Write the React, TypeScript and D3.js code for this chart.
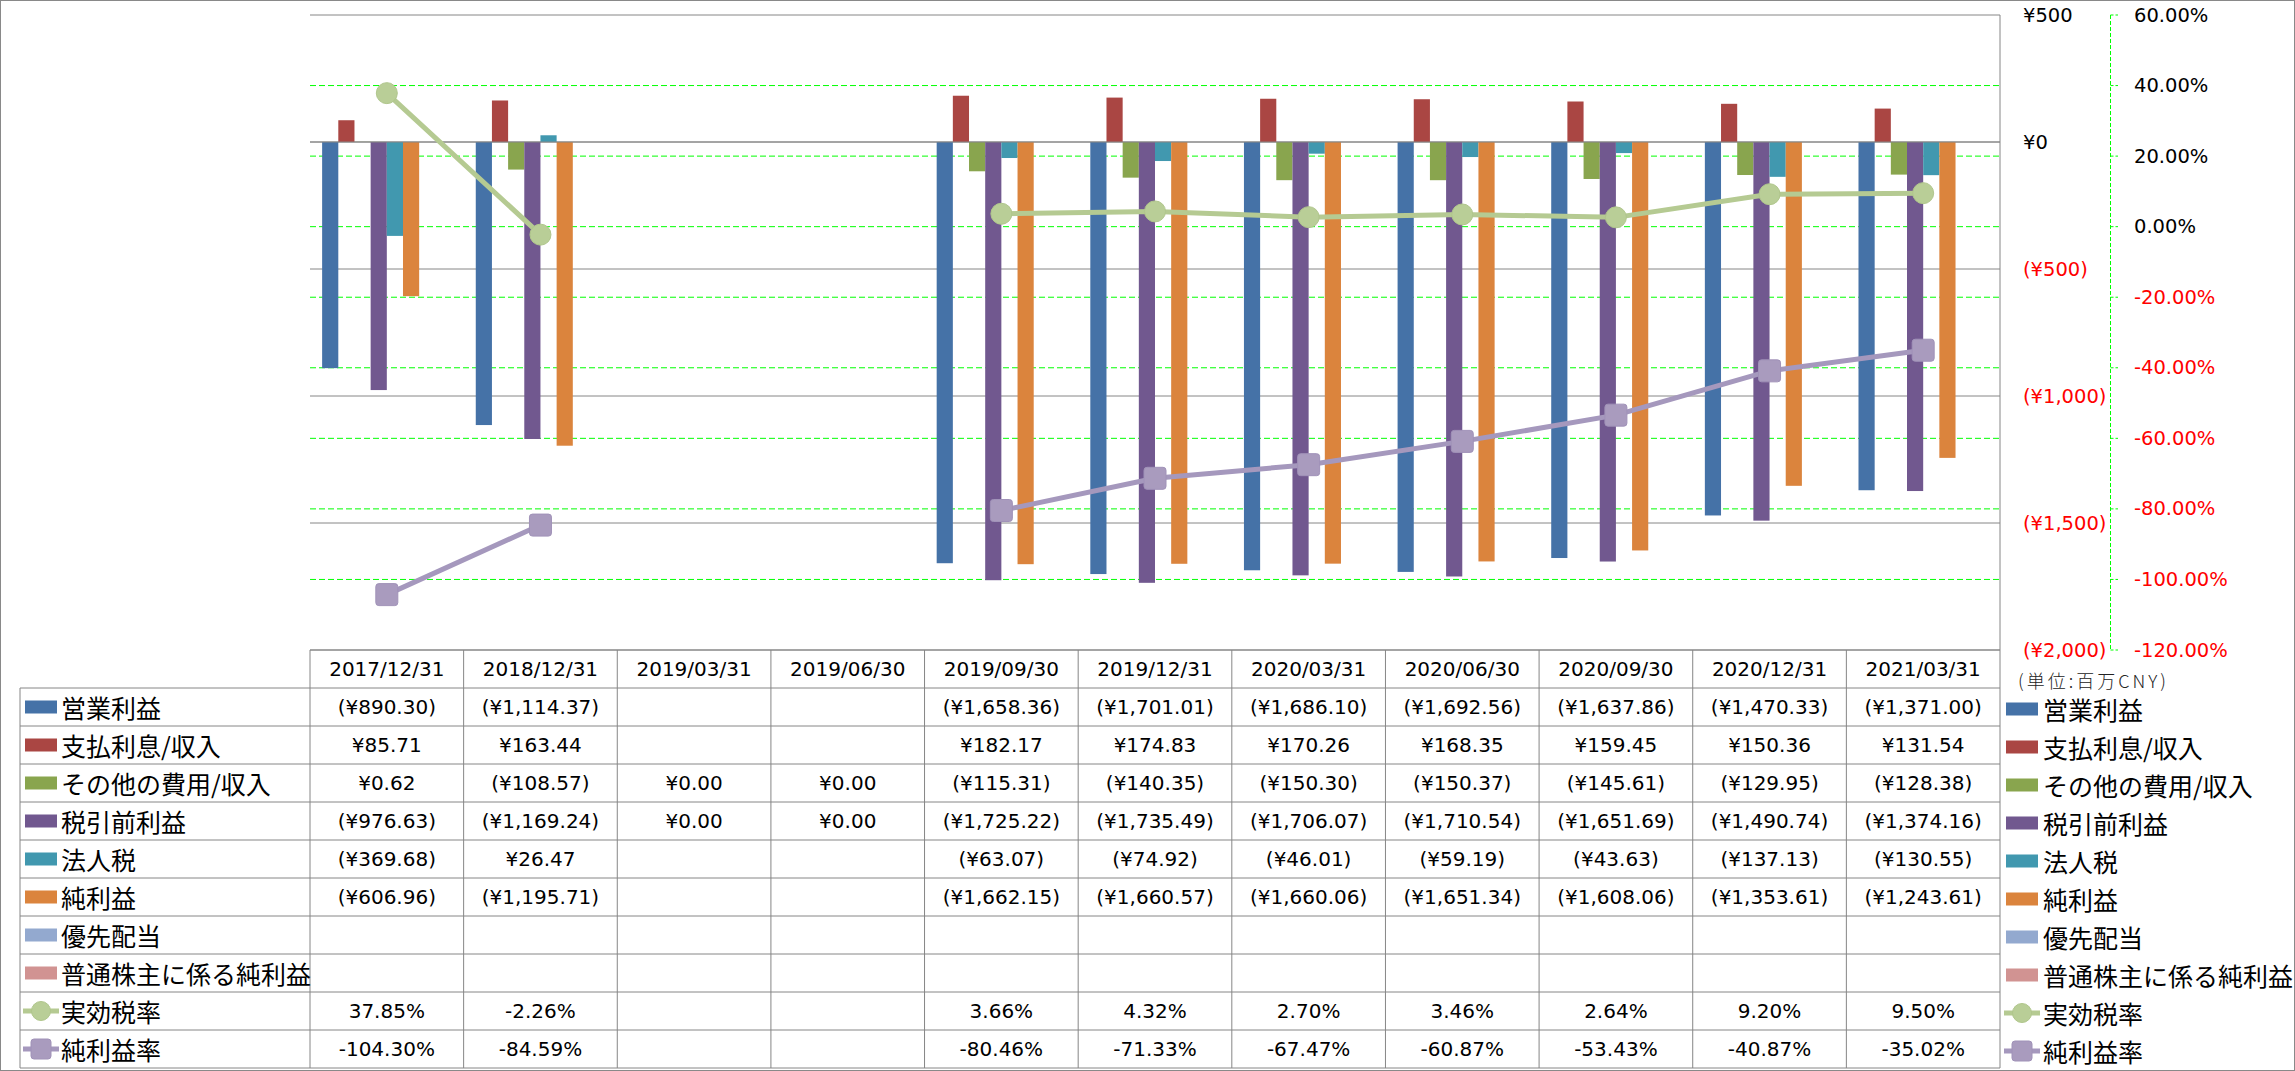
import React from "react";
import * as d3 from "d3";

const categories = [
  "2017/12/31", "2018/12/31", "2019/03/31", "2019/06/30", "2019/09/30", "2019/12/31",
  "2020/03/31", "2020/06/30", "2020/09/30", "2020/12/31", "2021/03/31",
];

const operatingIncome = [-890.30, -1114.37, null, null, -1658.36, -1701.01, -1686.10, -1692.56, -1637.86, -1470.33, -1371.00];
const interestExpense = [85.71, 163.44, null, null, 182.17, 174.83, 170.26, 168.35, 159.45, 150.36, 131.54];
const otherExpense = [0.62, -108.57, 0, 0, -115.31, -140.35, -150.30, -150.37, -145.61, -129.95, -128.38];
const pretaxIncome = [-976.63, -1169.24, 0, 0, -1725.22, -1735.49, -1706.07, -1710.54, -1651.69, -1490.74, -1374.16];
const incomeTax = [-369.68, 26.47, null, null, -63.07, -74.92, -46.01, -59.19, -43.63, -137.13, -130.55];
const netIncome = [-606.96, -1195.71, null, null, -1662.15, -1660.57, -1660.06, -1651.34, -1608.06, -1353.61, -1243.61];
const preferredDividends = [null, null, null, null, null, null, null, null, null, null, null];
const commonNetIncome = [null, null, null, null, null, null, null, null, null, null, null];
const effectiveTaxRate = [37.85, -2.26, null, null, 3.66, 4.32, 2.70, 3.46, 2.64, 9.20, 9.50];
const netMargin = [-104.30, -84.59, null, null, -80.46, -71.33, -67.47, -60.87, -53.43, -40.87, -35.02];

const barNames = ["営業利益", "支払利息/収入", "その他の費用/収入", "税引前利益", "法人税", "純利益", "優先配当", "普通株主に係る純利益"];
const barColors = ["#4572A7", "#AA4643", "#89A54E", "#71588F", "#4198AF", "#DB843D", "#93A9CF", "#D19392"];
const barValues = [operatingIncome, interestExpense, otherExpense, pretaxIncome, incomeTax, netIncome, preferredDividends, commonNetIncome];

const lineNames = ["実効税率", "純利益率"];
const lineColors = ["#B5CA92", "#A598BD"];
const markerColors = ["#B9CE97", "#A99BBE"];
const lineValues = [effectiveTaxRate, netMargin];

const primaryTicks = [500, 0, -500, -1000, -1500, -2000];
const secondaryTicks = [60, 40, 20, 0, -20, -40, -60, -80, -100, -120];
const unitLabel = "(単位:百万CNY)";

const W = 2295;
const H = 1071;
const PLOT_L = 310;
const PLOT_R = 2000;
const PLOT_T = 15;
const PLOT_B = 650;
const HEAD_H = 38;
const ROW_H = 38;
const TABLE_L = 20;

const NUM_FONT = "'DejaVu Sans', sans-serif";
const JP_FONT = "'Noto Sans CJK JP', sans-serif";
const GRID = "#868686";

const fmtNum = d3.format(",.2f");
const fmtCur = (v: number | null) => (v == null ? "" : v < 0 ? `(¥${fmtNum(-v)})` : `¥${fmtNum(v)}`);
const fmtPct = (v: number | null) => (v == null ? "" : `${v.toFixed(2)}%`);
const fmtAxis = (v: number) => (v < 0 ? `(¥${d3.format(",")(-v)})` : `¥${d3.format(",")(v)}`);

function Marker({ kind, cx, cy, color }: { kind: number; cx: number; cy: number; color: string }) {
  if (kind === 0) {
    return <circle cx={cx} cy={cy} r={10.5} fill={color} stroke="#B0C68C" strokeWidth={1} />;
  }
  return <rect x={cx - 11} y={cy - 11} width={22} height={22} rx={3} fill={color} stroke="#A092B8" strokeWidth={1} />;
}

export default function App() {
  const x = d3.scaleBand<string>().domain(categories).range([PLOT_L, PLOT_R]);
  const y = d3.scaleLinear().domain([-2000, 500]).range([PLOT_B, PLOT_T]);
  const y2 = d3.scaleLinear().domain([-120, 60]).range([PLOT_B, PLOT_T]);
  const bw = x.bandwidth();
  const barW = bw / 9.5;
  const barOff = barW * 0.75;
  const cx = (i: number) => (x(categories[i]) as number) + bw / 2;

  const line = d3
    .line<number | null>()
    .defined((d) => d != null)
    .x((_, i) => cx(i))
    .y((d) => y2(d as number));

  const rowNames = [...barNames, ...lineNames];
  const rowData: (number | null)[][] = [...barValues, ...lineValues];
  const tableBottom = PLOT_B + HEAD_H + ROW_H * rowNames.length;

  const legendIcon = (r: number, xL: number, cyy: number) => {
    if (r < barNames.length) {
      return <rect x={xL} y={cyy - 6.5} width={32} height={13} fill={barColors[r]} />;
    }
    const li = r - barNames.length;
    return (
      <g>
        <line x1={xL - 2} x2={xL + 34} y1={cyy} y2={cyy} stroke={lineColors[li]} strokeWidth={5} />
        {li === 0 ? (
          <circle cx={xL + 16} cy={cyy} r={9.5} fill={markerColors[0]} stroke="#B0C68C" />
        ) : (
          <rect x={xL + 6} y={cyy - 10} width={20} height={20} rx={3} fill={markerColors[1]} stroke="#A092B8" />
        )}
      </g>
    );
  };

  return (
    <div style={{ position: "absolute", left: 0, top: 0 }}>
      <svg width={W} height={H} style={{ display: "block", background: "#fff" }}>
        <rect x={0.5} y={0.5} width={W - 1} height={H - 1} fill="#fff" stroke="#898989" />

        {/* green secondary gridlines */}
        {secondaryTicks
          .filter((t) => t !== 60 && t !== -120)
          .map((t) => (
            <line key={"g2" + t} x1={PLOT_L} x2={PLOT_R} y1={y2(t)} y2={y2(t)} stroke="#00FF00" strokeWidth={1} strokeDasharray="6,3" />
          ))}
        {/* gray primary gridlines */}
        {primaryTicks.map((t) => (
          <line key={"g1" + t} x1={PLOT_L} x2={PLOT_R} y1={y(t)} y2={y(t)} stroke={GRID} strokeWidth={1} />
        ))}

        {/* bars */}
        {barValues.map((vals, s) =>
          vals.map((v, i) => {
            if (v == null) return null;
            const x0 = (x(categories[i]) as number) + barOff + s * barW;
            const y0 = y(Math.max(0, v));
            const h = Math.abs(y(v) - y(0));
            return <rect key={`b${s}-${i}`} x={x0} y={y0} width={barW} height={h} fill={barColors[s]} />;
          })
        )}

        {/* zero line on top of bars edges */}
        <line x1={PLOT_L} x2={PLOT_R} y1={y(0)} y2={y(0)} stroke={GRID} strokeWidth={1} />

        {/* lines */}
        {lineValues.map((vals, li) => (
          <g key={"l" + li}>
            <path d={line(vals) || ""} fill="none" stroke={lineColors[li]} strokeWidth={5} strokeLinejoin="round" />
            {vals.map((v, i) => (v == null ? null : <Marker key={i} kind={li} cx={cx(i)} cy={y2(v)} color={markerColors[li]} />))}
          </g>
        ))}

        {/* plot right border */}
        <line x1={PLOT_R} x2={PLOT_R} y1={PLOT_T} y2={tableBottom} stroke={GRID} />

        {/* primary axis labels */}
        {primaryTicks.map((t) => (
          <text key={"p" + t} x={2023} y={y(t)} dominantBaseline="central" fontFamily={NUM_FONT} fontSize={19.5} fill={t < 0 ? "#FF0000" : "#000"}>
            {fmtAxis(t)}
          </text>
        ))}

        {/* secondary axis */}
        <line x1={2110.5} x2={2110.5} y1={PLOT_T} y2={PLOT_B} stroke="#00FF00" strokeDasharray="4,2" />
        {secondaryTicks.map((t) => (
          <g key={"s" + t}>
            <line x1={2110.5} x2={2118} y1={y2(t)} y2={y2(t)} stroke="#00FF00" strokeDasharray="3,2" />
            <text x={2134} y={y2(t)} dominantBaseline="central" fontFamily={NUM_FONT} fontSize={19.5} fill={t < 0 ? "#FF0000" : "#000"}>
              {`${t.toFixed(2)}%`}
            </text>
          </g>
        ))}
        <text x={2018} y={680} dominantBaseline="central" fontFamily={JP_FONT} fontWeight={300} fontSize={18} textLength={148} lengthAdjust="spacing" fill="#222">
          {unitLabel}
        </text>

        {/* data table */}
        <line x1={PLOT_L} x2={PLOT_R} y1={PLOT_B} y2={PLOT_B} stroke={GRID} />
        {rowNames.map((_, r) => {
          const yy = PLOT_B + HEAD_H + r * ROW_H;
          return <line key={"hr" + r} x1={TABLE_L} x2={PLOT_R} y1={yy} y2={yy} stroke={GRID} />;
        })}
        <line x1={TABLE_L} x2={PLOT_R} y1={tableBottom} y2={tableBottom} stroke={GRID} />
        <line x1={TABLE_L} x2={TABLE_L} y1={PLOT_B + HEAD_H} y2={tableBottom} stroke={GRID} />
        {categories.map((c) => (
          <line key={"v" + c} x1={x(c)} x2={x(c)} y1={PLOT_B} y2={tableBottom} stroke={GRID} />
        ))}
        {categories.map((c) => (
          <text key={"h" + c} x={(x(c) as number) + bw / 2} y={PLOT_B + HEAD_H / 2} textAnchor="middle" dominantBaseline="central" fontFamily={NUM_FONT} fontSize={20}>
            {c}
          </text>
        ))}
        {rowNames.map((name, r) => {
          const cyy = PLOT_B + HEAD_H + r * ROW_H + ROW_H / 2;
          const isPct = r >= barNames.length;
          return (
            <g key={"row" + r}>
              {legendIcon(r, 25, cyy)}
              <text x={61} y={cyy} dominantBaseline="central" fontFamily={JP_FONT} fontSize={25}>
                {name}
              </text>
              {rowData[r].map((v, i) => (
                <text key={i} x={cx(i)} y={cyy} textAnchor="middle" dominantBaseline="central" fontFamily={NUM_FONT} fontSize={20}>
                  {isPct ? fmtPct(v) : fmtCur(v)}
                </text>
              ))}
              {legendIcon(r, 2006, cyy + 2)}
              <text x={2043} y={cyy + 2} dominantBaseline="central" fontFamily={JP_FONT} fontSize={25}>
                {name}
              </text>
            </g>
          );
        })}
      </svg>
    </div>
  );
}
